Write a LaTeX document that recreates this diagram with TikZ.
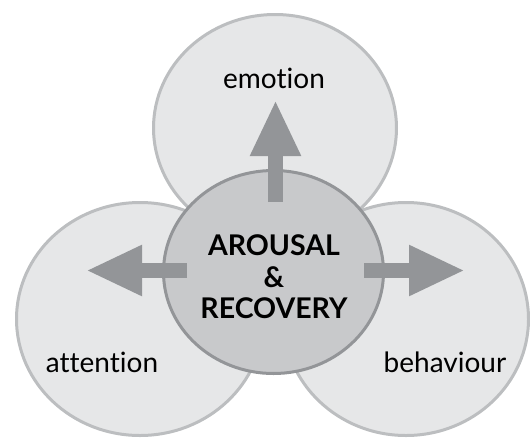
\documentclass[tikz,border=0pt]{standalone}
\usepackage{fontspec}
\setmainfont[Ligatures={NoCommon}]{Lato}
\usetikzlibrary{shapes.geometric,arrows.meta}
\definecolor{ringfill}{HTML}{E6E7E8}
\definecolor{ringline}{HTML}{BCBEC0}
\definecolor{corefill}{HTML}{C8C9CB}
\definecolor{coreline}{HTML}{939598}
\definecolor{arrowgray}{HTML}{939598}
\tikzset{
  ring/.style={ellipse, draw=ringline, fill=ringfill, line width=3pt, inner sep=0pt},
  core/.style={ellipse, draw=coreline, fill=corefill, line width=3pt, inner sep=0pt},
  label/.style={font=\fontsize{28}{32}\selectfont, text=black, inner sep=0pt},
  corelabel/.style={font=\fontsize{28.5}{31.5}\selectfont\bfseries, align=center, text=black, inner sep=0pt},
  blockarrow/.style={draw=arrowgray, line width=15pt,
    -{Triangle[width=47pt,length=56pt]}},
}
\begin{document}
\begin{tikzpicture}[x=1pt,y=-1pt]
  \useasboundingbox (0,0) rectangle (530,442);
  % three outer rings
  \node[ring, minimum width=243pt, minimum height=227pt] (emo) at (275,128) {};
  \node[ring, minimum width=247pt, minimum height=233pt] (att) at (140,319) {};
  \node[ring, minimum width=245pt, minimum height=233pt] (beh) at (406,319) {};
  % central disc
  \node[core, minimum width=220pt, minimum height=203pt] (core) at (273.5,272) {};
  % arrow ends
  \coordinate (upS) at (275.5,202);
  \coordinate (upE) at (275.5,100);
  \coordinate (lfS) at (187,270.5);
  \coordinate (lfE) at (86,270.5);
  \coordinate (rtS) at (364,270.5);
  \coordinate (rtE) at (465,270.5);
  \draw[blockarrow] (upS) -- (upE);
  \draw[blockarrow] (lfS) -- (lfE);
  \draw[blockarrow] (rtS) -- (rtE);
  % labels
  \node[label] (t1) at (274,78) {emotion};
  \node[label] (t2) at (102,362) {attention};
  \node[label] (t3) at (445,362) {behaviour};
  \node[corelabel] (t0) at (274,277) {AROUSAL\\\&\\RECOVERY};
\end{tikzpicture}
\end{document}
